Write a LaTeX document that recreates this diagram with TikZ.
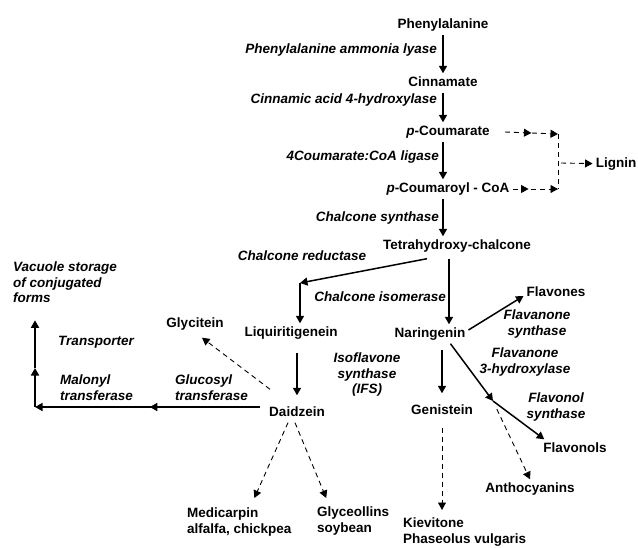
\documentclass[tikz,border=0pt]{standalone}
\usepackage{fontspec}
\setmainfont{Liberation Sans}
\usetikzlibrary{arrows.meta, decorations.markings}

\begin{document}
\begin{tikzpicture}[x=1pt, y=-1pt, >={Triangle[length=7.5pt, width=8pt]},
    cmpd/.style={font=\fontsize{13.5}{15.5}\selectfont\bfseries, inner sep=3pt, text height=10pt, text depth=3pt},
    cmpdblock/.style={font=\fontsize{13.5}{15.5}\selectfont\bfseries, inner sep=0pt, align=left},
    enz/.style={font=\fontsize{13.5}{15.5}\selectfont\bfseries\itshape, inner sep=0pt},
    conv/.style={->, line width=1.5pt},
    side/.style={->, line width=0.9pt, dash pattern=on 5pt off 4pt},
    sideline/.style={line width=0.9pt, dash pattern=on 5pt off 4pt},
    midarrow/.style={postaction={decorate}, decoration={markings, mark=at position #1 with {\arrow{>}}}}]
    \useasboundingbox (0,0) rectangle (638,547);

    % Compounds
    \node[cmpd] (phe) at (443,25) {Phenylalanine};
    \node[cmpd] (cin) at (443,83) {Cinnamate};
    \node[cmpd] (pcm) at (448,132) {\textit{p}-Coumarate};
    \node[cmpd] (pcoa) at (448,189) {\textit{p}-Coumaroyl - CoA};
    \node[cmpd] (lig) at (616,164) {Lignin};
    \node[cmpd] (thc) at (457,246) {Tetrahydroxy-chalcone};
    \node[cmpd] (liq) at (291,333) {Liquiritigenein};
    \node[cmpd] (nar) at (430,334) {Naringenin};
    \node[cmpd] (flv) at (556,293) {Flavones};
    \node[cmpd] (gly) at (195,324) {Glycitein};
    \node[cmpd] (dai) at (297,413) {Daidzein};
    \node[cmpd] (gen) at (442,411) {Genistein};
    \node[cmpd] (flo) at (575,449) {Flavonols};
    \node[cmpd] (ant) at (530,489) {Anthocyanins};
    \node[cmpdblock, anchor=north west] (med) at (187,508) {Medicarpin\\alfalfa, chickpea};
    \node[cmpdblock, anchor=north west] (glc) at (317,507) {Glyceollins\\soybean};
    \node[cmpdblock, anchor=north west] (kie) at (403,518) {Kievitone\\Phaseolus vulgaris};

    % Enzymes
    \node[enz, anchor=east] (pal) at (437,50) {Phenylalanine ammonia lyase};
    \node[enz, anchor=east] (c4h) at (437,100) {Cinnamic acid 4-hydroxylase};
    \node[enz, anchor=east] (fcl) at (439,157) {4Coumarate:CoA ligase};
    \node[enz, anchor=east] (chs) at (439,218) {Chalcone synthase};
    \node[enz] (chr) at (302,256) {Chalcone reductase};
    \node[enz, anchor=east] (chi) at (446,297) {Chalcone isomerase};
    \node[enz, align=center, anchor=north] (ifs) at (367,353) {Isoflavone\\synthase\\(IFS)};
    \node[enz, align=center, anchor=north] (fns) at (537,310) {Flavanone\\synthase};
    \node[enz, align=center, anchor=north] (f3h) at (525,348) {Flavanone\\3-hydroxylase};
    \node[enz, align=center, anchor=north] (fls) at (556,393) {Flavonol\\synthase};
    \node[enz] (trp) at (96,342) {Transporter};
    \node[enz, align=left, anchor=north west] (mat) at (60,375) {Malonyl\\transferase};
    \node[enz, align=left, anchor=north west] (glt) at (175,375) {Glucosyl\\transferase};
    \node[enz, align=left, anchor=north west] (vac) at (13,262) {Vacuole storage\\of conjugated\\forms};

    % Main pathway
    \draw[conv] (phe) -- (cin);
    \draw[conv] (cin) -- (pcm.north -| cin);
    \draw[conv] (pcm.south -| cin) -- (pcoa.north -| cin);
    \draw[conv] (pcoa.south -| cin) -- (thc.north -| cin);

    % Side branch to lignin
    \coordinate (ltop) at (558,134);
    \coordinate (lbot) at (558,189);
    \coordinate (lmid) at (561,163);
    \draw[side, midarrow=0.5] ([xshift=12pt]pcm.east) -- (ltop);
    \draw[side, midarrow=0.35] (pcoa.east) -- (lbot);
    \draw[sideline] (ltop) -- (lbot);
    \draw[side] (lmid) -- (lig);

    % Chalcone reductase and isomerase
    \coordinate (cr) at (300,283);
    \draw[conv] ([xshift=-30pt,yshift=-3pt]thc.south) -- (cr);
    \draw[conv] (cr) -- (cr |- liq.north);
    \draw[conv] ([xshift=-8pt,yshift=-3pt]thc.south) -- ([xshift=-8pt]thc.south |- nar.north);

    % Naringenin branches
    \coordinate (fork) at (493,401);
    \draw[conv] ([yshift=4pt]nar.east) -- ([yshift=-3pt]flv.west);
    \draw[conv] ([xshift=-18pt]nar.south east) -- (fork);
    \draw[conv] (fork) -- ([xshift=4pt]flo.north west);
    \draw[side, shorten <=9pt] (fork) -- (ant.north);
    \draw[conv, shorten <=6pt, shorten >=8pt] (nar.south -| gen) -- (gen.north);
    \draw[side, shorten <=7pt, shorten >=8pt] (gen.south) -- (gen.south |- kie.north);

    % Daidzein branches
    \coordinate (mal) at (35,407);
    \coordinate (trn) at (35,368);
    \draw[conv, shorten <=10pt, shorten >=8pt] (liq.south -| dai) -- (dai.north);
    \draw[conv, midarrow=0.49] ([xshift=-6pt,yshift=6pt]dai.west) -- (mal);
    \draw[conv] (mal) -- (trn);
    \draw[conv, shorten >=17pt] (trn) -- (trn |- vac.south);
    \draw[side] ([shift={(4pt,14pt)}]dai.north west) -- ([shift={(7pt,-4pt)}]gly.south);
    \draw[side] ([xshift=-9pt]dai.south) -- ([shift={(15pt,10pt)}]med.north);
    \draw[side] ([xshift=-2pt]dai.south) -- ([shift={(-27pt,9pt)}]glc.north);
\end{tikzpicture}
\end{document}
